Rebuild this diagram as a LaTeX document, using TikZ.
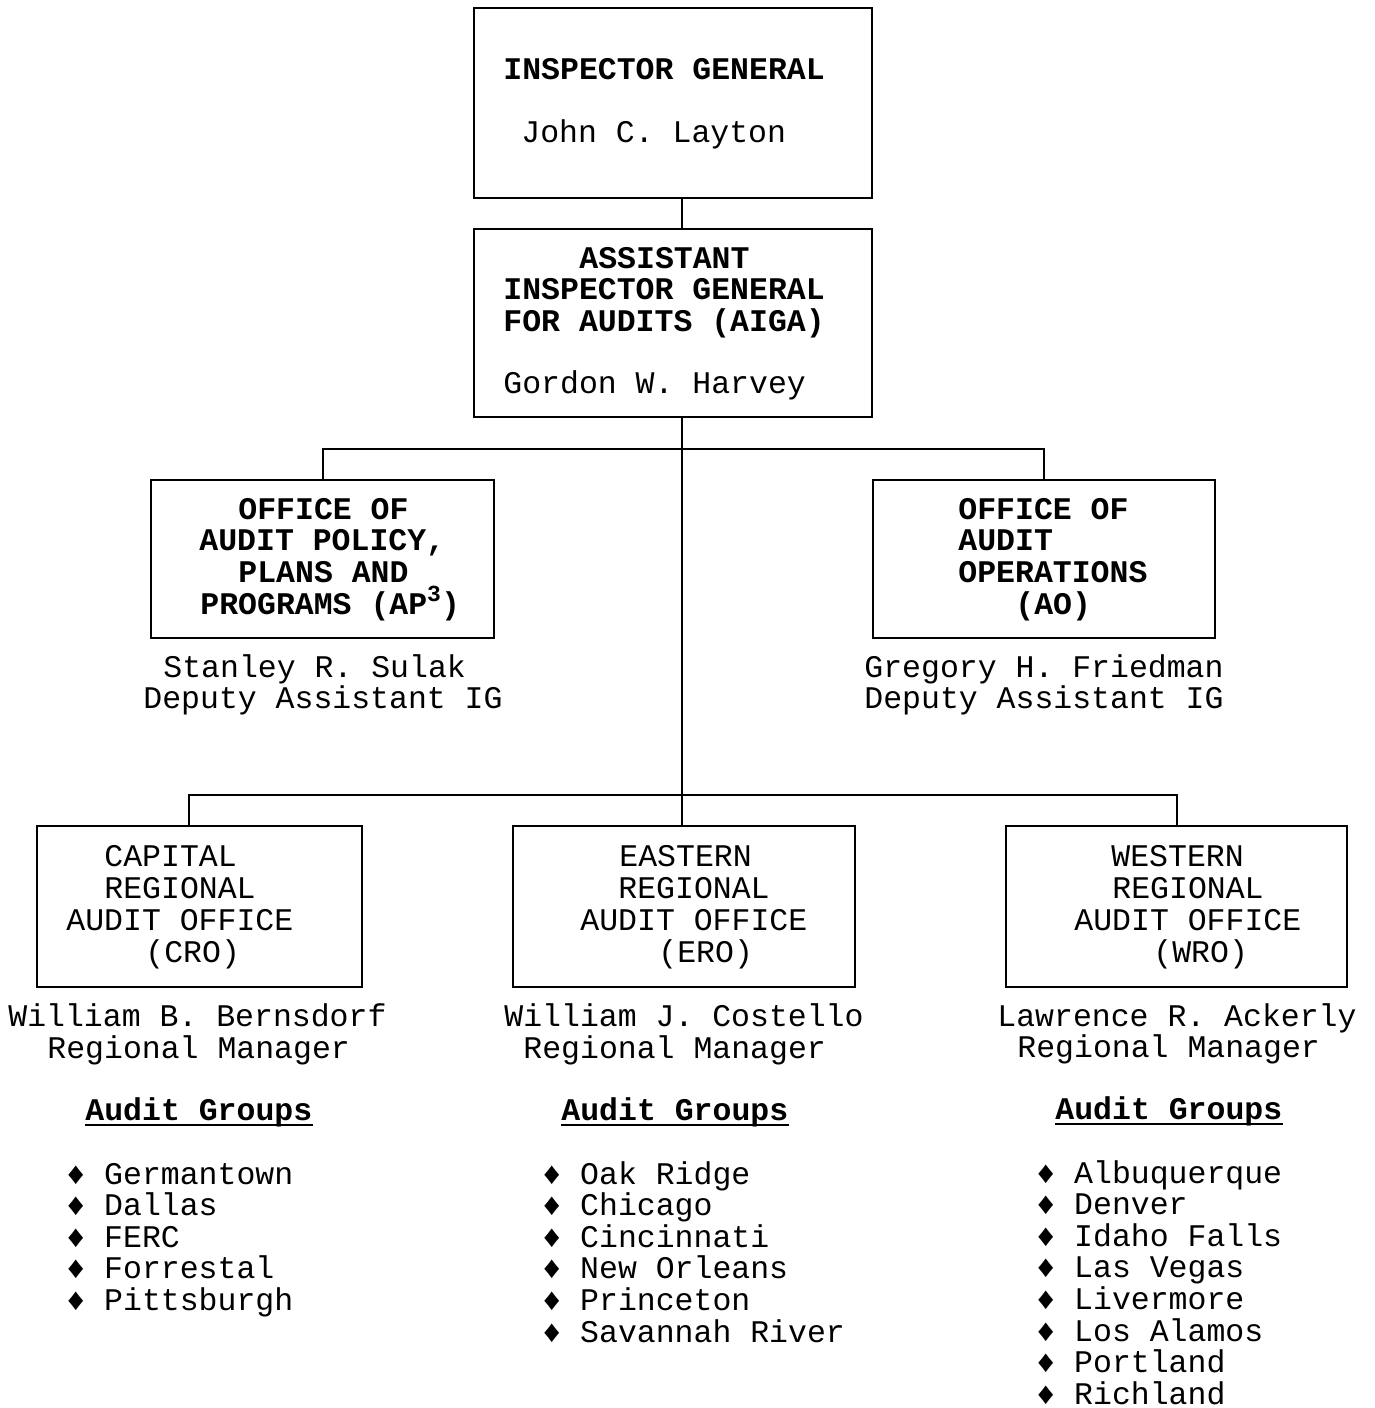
\documentclass[tikz,border=0pt]{standalone}
\usepackage{fontspec}
\newfontfamily\mono{Liberation Mono}
\begin{document}
\begin{tikzpicture}[x=0.5pt,y=-0.5pt,
  orgbox/.style={draw, line width=1pt, inner sep=0pt, anchor=north west},
  txt/.style={anchor=base west, inner sep=0pt, font=\mono\fontsize{15.75}{15.85}\selectfont},
  btxt/.style={txt, font=\mono\bfseries\fontsize{15.75}{15.85}\selectfont},
  conn/.style={line width=1pt}]
\useasboundingbox (0,0) rectangle (1375,1408);
% boxes
\node[orgbox, minimum width=199pt, minimum height=95pt] (ig) at (473,7) {};
\node[orgbox, minimum width=199pt, minimum height=94pt] (aiga) at (473,228) {};
\node[orgbox, minimum width=171.5pt, minimum height=79pt] (ap) at (150,479) {};
\node[orgbox, minimum width=171pt, minimum height=79pt] (ao) at (872,479) {};
\node[orgbox, minimum width=162.5pt, minimum height=80.5pt] (cro) at (36,825) {};
\node[orgbox, minimum width=171pt, minimum height=80.5pt] (ero) at (512,825) {};
\node[orgbox, minimum width=170.5pt, minimum height=80.5pt] (wro) at (1005,825) {};
% junctions
\coordinate (sp1) at (682,449);
\coordinate (sp2) at (682,795);
\coordinate (cx) at (189,795);
% connectors
\draw[conn] (ig.south -| sp1) -- (aiga.north -| sp1);
\draw[conn] (aiga.south -| sp1) -- (sp2);
\draw[conn] (ap.north) |- (sp1) -| (ao.north);
\draw[conn] (cro.north -| cx) -- (cx) -- (sp2) -| (wro.north);
\draw[conn] (sp2) -- (ero.north -| sp2);
% IG
\node[btxt] (ig1) at (503,79) {INSPECTOR GENERAL};
\node[txt] (ig2) at (521,142) {John C. Layton};
% AIGA
\node[btxt] (ag1) at (579,268) {ASSISTANT};
\node[btxt] (ag2) at (503,299) {INSPECTOR GENERAL};
\node[btxt] (ag3) at (503,331) {FOR AUDITS (AIGA)};
\node[txt] (ag4) at (503,393) {Gordon W. Harvey};
% AP3
\node[btxt] (ap1) at (238,519) {OFFICE OF};
\node[btxt] (ap2) at (199,550) {AUDIT POLICY,};
\node[btxt] (ap3) at (238,582) {PLANS AND};
\node[btxt] (ap4) at (200,614) {PROGRAMS (AP\raisebox{0.4em}{\fontsize{11.5}{11.5}\selectfont 3})};
\node[txt] (ap5) at (163,677) {Stanley R. Sulak};
\node[txt] (ap6) at (143,708) {Deputy Assistant IG};
% AO
\node[btxt] (ao1) at (958,519) {OFFICE OF};
\node[btxt] (ao2) at (958,550) {AUDIT};
\node[btxt] (ao3) at (958,582) {OPERATIONS};
\node[btxt] (ao4) at (1015,614) {(AO)};
\node[txt] (ao5) at (864,677) {Gregory H. Friedman};
\node[txt] (ao6) at (864,708) {Deputy Assistant IG};
% CRO
\node[txt] (cr1) at (104,866) {CAPITAL};
\node[txt] (cr2) at (104,898) {REGIONAL};
\node[txt] (cr3) at (66,930) {AUDIT OFFICE};
\node[txt] (cr4) at (145,962) {(CRO)};
\node[txt] (cr5) at (8,1026) {William B. Bernsdorf};
\node[txt] (cr6) at (47,1058) {Regional Manager};
\node[btxt] (cr7) at (85,1120) {Audit Groups};
\draw[line width=1pt] ([yshift=-5*0.5pt]cr7.base west) -- ([yshift=-5*0.5pt]cr7.base east);
\foreach \t [count=\i] in {Germantown, Dallas, FERC, Forrestal, Pittsburgh}
  \node[txt] (crg\i) at (66,{1184+31.6*(\i-1)}) {♦ \t};
% ERO
\node[txt] (er1) at (619,866) {EASTERN};
\node[txt] (er2) at (618,898) {REGIONAL};
\node[txt] (er3) at (580,930) {AUDIT OFFICE};
\node[txt] (er4) at (658,962) {(ERO)};
\node[txt] (er5) at (504,1026) {William J. Costello};
\node[txt] (er6) at (523,1058) {Regional Manager};
\node[btxt] (er7) at (561,1120) {Audit Groups};
\draw[line width=1pt] ([yshift=-5*0.5pt]er7.base west) -- ([yshift=-5*0.5pt]er7.base east);
\foreach \t [count=\i] in {Oak Ridge, Chicago, Cincinnati, New Orleans, Princeton, Savannah River}
  \node[txt] (erg\i) at (542,{1184+31.6*(\i-1)}) {♦ \t};
% WRO
\node[txt] (wr1) at (1111,866) {WESTERN};
\node[txt] (wr2) at (1112,898) {REGIONAL};
\node[txt] (wr3) at (1074,930) {AUDIT OFFICE};
\node[txt] (wr4) at (1153,962) {(WRO)};
\node[txt] (wr5) at (997,1026) {Lawrence R. Ackerly};
\node[txt] (wr6) at (1017,1057) {Regional Manager};
\node[btxt] (wr7) at (1055,1119) {Audit Groups};
\draw[line width=1pt] ([yshift=-5*0.5pt]wr7.base west) -- ([yshift=-5*0.5pt]wr7.base east);
\foreach \t [count=\i] in {Albuquerque, Denver, Idaho Falls, Las Vegas, Livermore, Los Alamos, Portland, Richland}
  \node[txt] (wrg\i) at (1036,{1183+31.6*(\i-1)}) {♦ \t};
\end{tikzpicture}
\end{document}
